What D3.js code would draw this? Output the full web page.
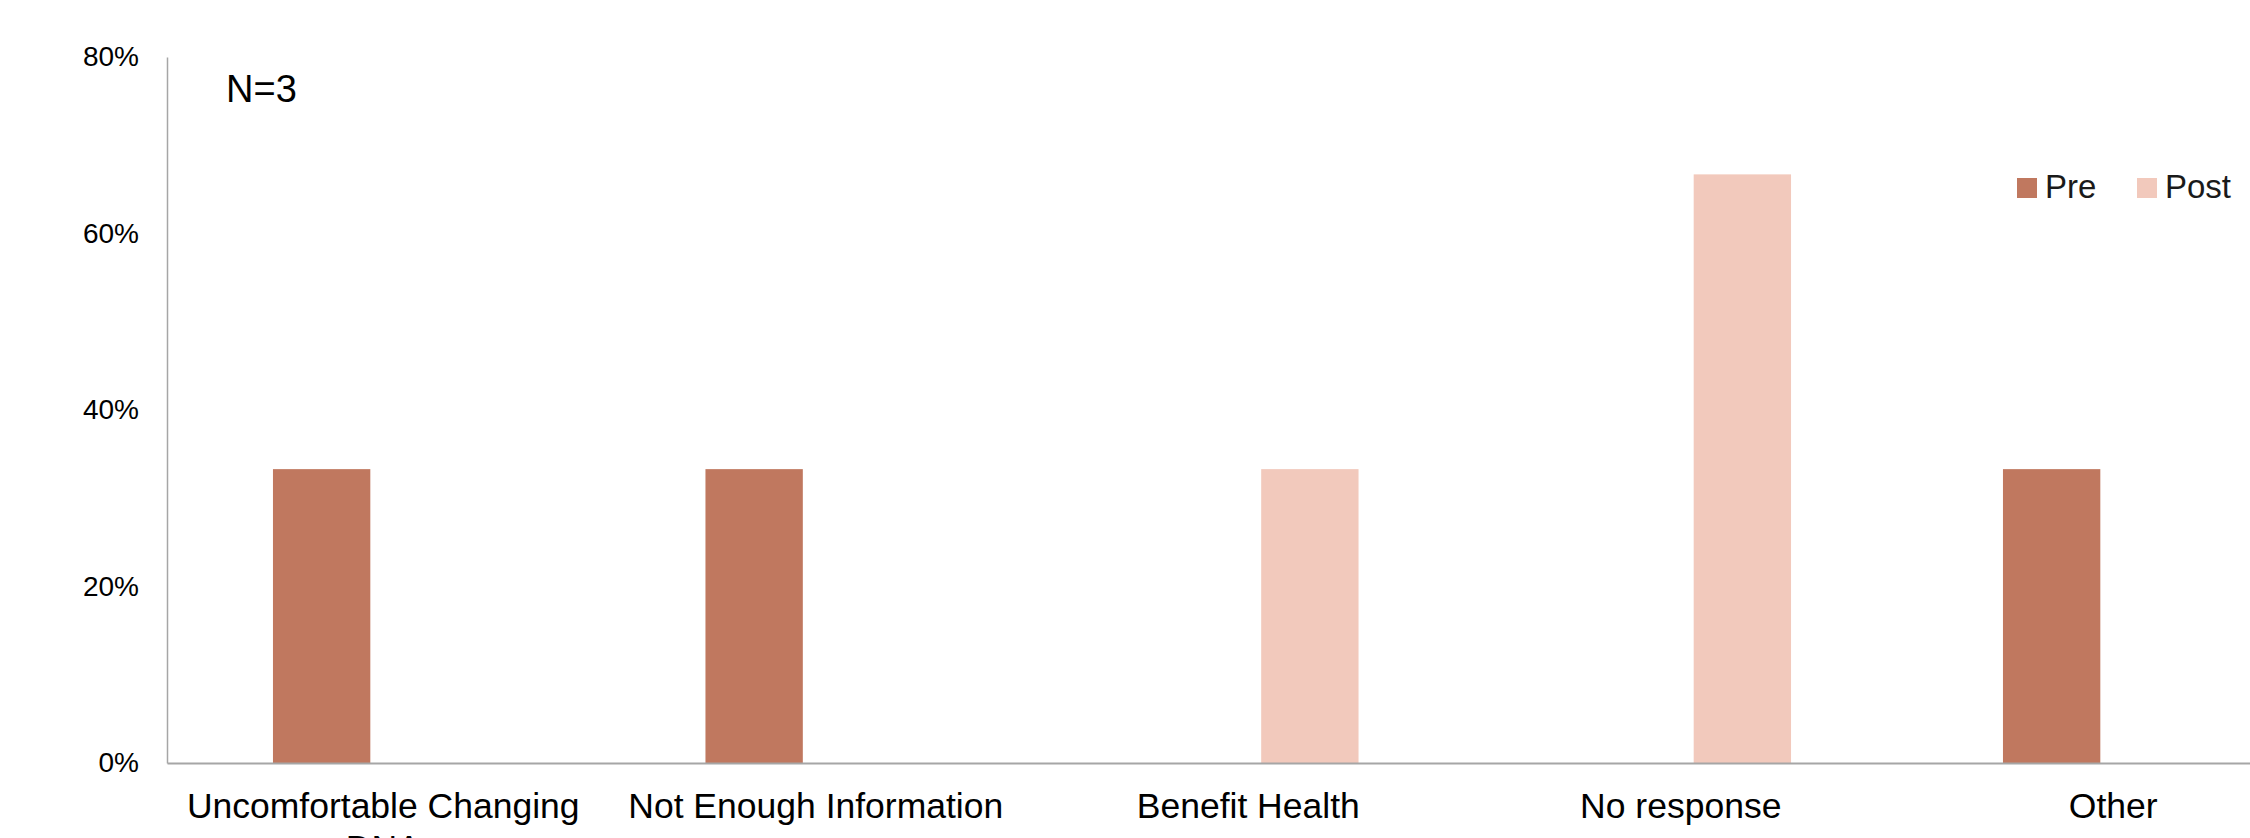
<!DOCTYPE html>
<html>
<head>
<meta charset="utf-8">
<script src="https://cdn.jsdelivr.net/npm/d3@7"></script>
<style>
  html, body { margin: 0; padding: 0; background: #fff; }
  svg { display: block; font-family: "Liberation Sans", Arial, sans-serif; }
</style>
</head>
<body>
<svg id="chart" width="2250" height="838"></svg>
<script>
// Reasons given, before and after (share of respondents)
const categories = [
  "Uncomfortable Changing DNA",
  "Not Enough Information",
  "Benefit Health",
  "No response",
  "Other"
];
const series = ["Pre", "Post"];
const preValues  = [33.3, 33.3, 0, 0, 33.3];
const postValues = [0, 0, 33.3, 66.7, 0];
const yTicks = [0, 20, 40, 60, 80];
const note = "N=3";

const colors = { Pre: "#C0785F", Post: "#F2C9BC" };

(function draw() {
  const svg = d3.select("#chart");

  // Plot area: the category axis runs past the right edge of the page
  const plotLeft = 167, plotBottom = 763, plotTop = 57;
  const step = 432.5;
  const plotRight = plotLeft + step * categories.length;

  const x0 = d3.scaleBand()
    .domain(categories)
    .range([plotLeft, plotRight])
    .paddingInner(0.49)
    .paddingOuter(0.245);

  const x1 = d3.scaleBand()
    .domain(series)
    .range([0, x0.bandwidth()])
    .paddingInner(0.21);

  const y = d3.scaleLinear()
    .domain([0, 80])
    .range([plotBottom, plotTop]);

  const rows = categories.map((c, i) => ({
    category: c,
    values: [
      { key: "Pre", value: preValues[i] },
      { key: "Post", value: postValues[i] }
    ]
  }));

  // Bars
  const groups = svg.append("g")
    .selectAll("g")
    .data(rows)
    .join("g")
    .attr("transform", d => `translate(${x0(d.category)},0)`);

  groups.selectAll("rect")
    .data(d => d.values.filter(v => v.value > 0))
    .join("rect")
    .attr("x", d => x1(d.key))
    .attr("y", d => y(d.value))
    .attr("width", x1.bandwidth())
    .attr("height", d => y(0) - y(d.value))
    .attr("fill", d => colors[d.key]);

  // Y axis
  const yAxis = d3.axisLeft(y)
    .tickValues(yTicks)
    .tickFormat(d => d + "%")
    .tickSize(0)
    .tickPadding(28);

  const yg = svg.append("g")
    .attr("transform", `translate(${plotLeft},0)`)
    .call(yAxis);
  yg.select(".domain").attr("stroke", "#A6A6A6").attr("stroke-width", 1.5);
  yg.selectAll("text")
    .attr("font-size", 28)
    .attr("font-family", "Liberation Sans, Arial, sans-serif")
    .attr("fill", "#000");

  // X axis
  const xAxis = d3.axisBottom(x0).tickSize(0).tickFormat("");
  const xg = svg.append("g")
    .attr("transform", `translate(0,${plotBottom})`)
    .call(xAxis);
  xg.select(".domain").attr("stroke", "#A6A6A6").attr("stroke-width", 2);

  // Category labels, wrapped to fit the band
  const maxLabelWidth = 410;
  const labels = svg.append("g")
    .selectAll("text")
    .data(categories)
    .join("text")
    .attr("x", d => x0(d) + x0.bandwidth() / 2)
    .attr("y", 818)
    .attr("text-anchor", "middle")
    .attr("font-size", 35.5)
    .attr("fill", "#000");

  labels.each(function(d) {
    const t = d3.select(this);
    const words = d.split(" ");
    let line = [];
    let tspan = t.append("tspan").attr("x", t.attr("x")).attr("dy", 0);
    words.forEach(w => {
      line.push(w);
      tspan.text(line.join(" "));
      if (tspan.node().getComputedTextLength() > maxLabelWidth && line.length > 1) {
        line.pop();
        tspan.text(line.join(" "));
        line = [w];
        tspan = t.append("tspan").attr("x", t.attr("x")).attr("dy", 42).text(w);
      }
    });
  });

  // Sample size note
  svg.append("text")
    .attr("x", 226)
    .attr("y", 102)
    .attr("font-size", 38)
    .attr("fill", "#000")
    .text(note);

  // Legend
  const legendItems = [
    { key: "Pre", x: 2017 },
    { key: "Post", x: 2137 }
  ];
  const legend = svg.append("g")
    .selectAll("g")
    .data(legendItems)
    .join("g")
    .attr("transform", d => `translate(${d.x},178)`);
  legend.append("rect")
    .attr("width", 20)
    .attr("height", 20)
    .attr("fill", d => colors[d.key]);
  legend.append("text")
    .attr("x", 28)
    .attr("y", 20)
    .attr("font-size", 33)
    .attr("fill", "#1a1a1a")
    .text(d => d.key);
})();
</script>
</body>
</html>
